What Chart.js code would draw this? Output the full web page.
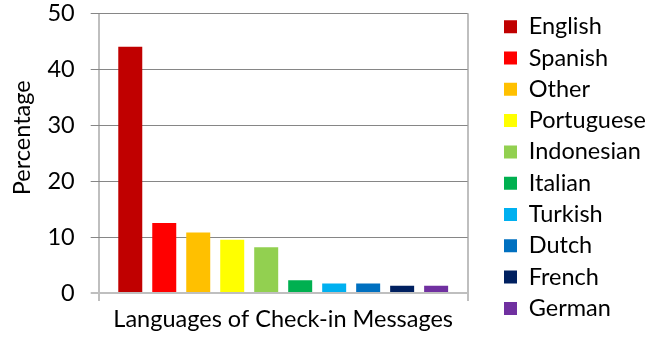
<!DOCTYPE html>
<html>
<head>
<meta charset="utf-8">
<script src="https://cdn.jsdelivr.net/npm/chart.js@4.4.0/dist/chart.umd.min.js"></script>
<style>
  html, body { margin: 0; padding: 0; background: #fff; }
</style>
</head>
<body>
<canvas id="graficoIdiomas" width="647" height="343"></canvas>
<script>
// Idiomas de los mensajes de check-in (porcentaje)
const idiomas = ['English', 'Spanish', 'Other', 'Portuguese', 'Indonesian', 'Italian', 'Turkish', 'Dutch', 'French', 'German'];
const porcentajes = [44, 12.5, 10.8, 9.5, 8.2, 2.3, 1.7, 1.7, 1.3, 1.3];
const colores = ['#C00000', '#FF0000', '#FFC000', '#FFFF00', '#92D050', '#00B050', '#00B0F0', '#0070C0', '#002060', '#7030A0'];
const marcasY = [0, 10, 20, 30, 40, 50];

const tituloX = 'Languages of Check-in Messages';
const tituloY = 'Percentage';
const fuente = 'Lato';
const tamFuente = 23.5;

Chart.defaults.color = '#000';
Chart.defaults.font.family = fuente;

// Una sola categoría, una serie por idioma (así cada barra tiene su entrada en la leyenda)
const datasets = idiomas.map((nombre, i) => ({
  label: nombre,
  data: [porcentajes[i]],
  backgroundColor: colores[i],
  borderWidth: 0,
  categoryPercentage: 0.921,
  barPercentage: 0.706
}));

// Título del eje Y dibujado a mano, un poco por encima del centro
const tituloEjeY = {
  id: 'tituloEjeY',
  afterDraw(chart) {
    const { ctx, chartArea } = chart;
    ctx.save();
    ctx.translate(22, chartArea.top + (chartArea.bottom - chartArea.top) * 0.445);
    ctx.rotate(-Math.PI / 2);
    ctx.font = tamFuente + 'px ' + fuente;
    ctx.fillStyle = '#000';
    ctx.textAlign = 'center';
    ctx.textBaseline = 'middle';
    ctx.fillText(tituloY, 0, 0);
    ctx.restore();
  }
};

const ctx = document.getElementById('graficoIdiomas').getContext('2d');
new Chart(ctx, {
  type: 'bar',
  data: { labels: [''], datasets: datasets },
  plugins: [tituloEjeY],
  options: {
    responsive: false,
    animation: false,
    devicePixelRatio: 1,
    layout: { padding: 0 },
    plugins: {
      tooltip: { enabled: false },
      legend: {
        position: 'right',
        align: 'start',
        maxWidth: 150.8,
        // título vacío: solo sirve para bajar un poco los elementos
        title: { display: true, text: '', font: { size: 1 }, padding: 2.98 },
        labels: {
          boxWidth: 13,
          boxHeight: 13,
          padding: 7.8,
          font: { size: tamFuente, family: fuente },
          color: '#000'
        }
      }
    },
    scales: {
      x: {
        offset: true,
        grid: { display: true, offset: true, color: '#BFBFBF', lineWidth: 2, tickLength: 8 },
        border: { display: false },
        ticks: { display: false },
        title: { display: true, text: tituloX, font: { size: tamFuente, family: fuente }, color: '#000', padding: { top: 0, bottom: 9 } },
        afterFit: s => { s.height = 50; }
      },
      y: {
        min: marcasY[0],
        max: marcasY[marcasY.length - 1],
        afterBuildTicks: s => { s.ticks = marcasY.map(v => ({ value: v })); },
        grid: {
          color: c => c.tick.value === 0 ? '#BFBFBF' : '#868686',
          lineWidth: c => c.tick.value === 0 ? 2 : 1,
          tickLength: 8
        },
        border: { display: false },
        ticks: { font: { size: tamFuente, family: fuente }, color: '#000', padding: 16 },
        afterFit: s => {
          s.width = 98.7;
          // el padding de las etiquetas no debe empujar el área del gráfico hacia abajo
          s.paddingTop = 13.3;
          s.paddingBottom = 13.3;
        }
      },
      // eje vacío a la derecha para separar la leyenda del gráfico
      yRelleno: {
        type: 'linear',
        position: 'right',
        grid: { display: false },
        border: { display: false },
        ticks: { display: false },
        afterFit: s => { s.width = 28.5; }
      }
    }
  }
});
</script>
</body>
</html>
